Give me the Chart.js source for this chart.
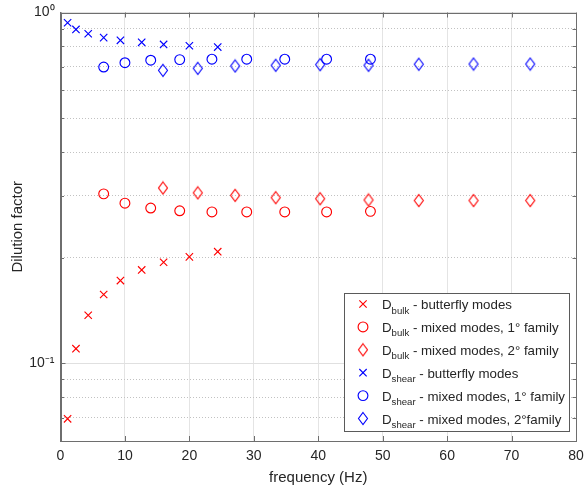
<!DOCTYPE html>
<html>
<head>
<meta charset="utf-8">
<script src="https://cdn.jsdelivr.net/npm/chart.js@4/dist/chart.umd.min.js"></script>
<style>
  html, body { margin: 0; padding: 0; background: #ffffff; }
  #wrap { width: 584px; height: 490px; }
</style>
</head>
<body>
<div id="wrap"><canvas id="c" width="584" height="490"></canvas></div>
<script>
// ---- data ----
const butterflyF       = [1.1, 2.4, 4.3, 6.7, 9.3, 12.6, 16.0, 20.0, 24.4];
const bulkButterflyD   = [0.0694, 0.110, 0.137, 0.157, 0.172, 0.1845, 0.194, 0.201, 0.208];
const shearButterflyD  = [0.935, 0.895, 0.870, 0.848, 0.833, 0.822, 0.811, 0.804, 0.797];

const mixed1F          = [6.7, 10.0, 14.0, 18.5, 23.5, 28.9, 34.8, 41.3, 48.1];
const bulkMixed1D      = [0.304, 0.286, 0.277, 0.272, 0.270, 0.270, 0.270, 0.270, 0.271];
const shearMixed1D     = [0.699, 0.719, 0.731, 0.734, 0.736, 0.736, 0.736, 0.736, 0.736];

const mixed2F          = [15.9, 21.3, 27.1, 33.4, 40.3, 47.8, 55.6, 64.1, 72.9];
const bulkMixed2D      = [0.316, 0.306, 0.301, 0.2965, 0.2945, 0.292, 0.291, 0.291, 0.291];
const shearMixed2D     = [0.684, 0.693, 0.704, 0.707, 0.710, 0.707, 0.712, 0.713, 0.713];

const xTicks = [0, 10, 20, 30, 40, 50, 60, 70, 80];
const yTicks = [0.06, 0.07, 0.08, 0.09, 0.1, 0.2, 0.3, 0.4, 0.5, 0.6, 0.7, 0.8, 0.9, 1];
const yMajorLabels = { '1': '10\u2070', '0.1': '10\u207B\u00B9' };

const legendMain = ['D', 'D', 'D', 'D', 'D', 'D'];
const legendSub  = ['bulk', 'bulk', 'bulk', 'shear', 'shear', 'shear'];
const legendRest = [' - butterfly modes', ' - mixed modes, 1\u00B0 family', ' - mixed modes, 2\u00B0 family',
                    ' - butterfly modes', ' - mixed modes, 1\u00B0 family', ' - mixed modes, 2\u00B0family'];

// ---- styling ----
const RED = '#ff0000', BLUE = '#0000ff';
const FONT = "'Liberation Sans', Arial, Helvetica, sans-serif";
const TEXT = '#262626';

function diamond(color) {
  const c = document.createElement('canvas');
  c.width = 12; c.height = 15;
  const g = c.getContext('2d');
  g.strokeStyle = color; g.lineWidth = 1.1;
  g.beginPath();
  g.moveTo(6, 1.5); g.lineTo(10.5, 7.5); g.lineTo(6, 13.5); g.lineTo(1.5, 7.5); g.closePath();
  g.stroke();
  return c;
}
const redDiamond = diamond(RED), blueDiamond = diamond(BLUE);

function pts(xs, ys) { return xs.map((x, i) => ({ x: x, y: ys[i] })); }

function ds(label, xs, ys, color, style, radius) {
  return {
    label: label, data: pts(xs, ys), showLine: false,
    pointStyle: style, pointRadius: radius, pointHoverRadius: radius,
    borderColor: color, backgroundColor: 'rgba(0,0,0,0)', pointBorderWidth: 1.15, borderWidth: 1.15
  };
}

const datasets = [
  ds('Dbulk - butterfly modes', butterflyF, bulkButterflyD, RED, 'crossRot', 5.2),
  ds('Dbulk - mixed modes, 1° family', mixed1F, bulkMixed1D, RED, 'circle', 4.9),
  ds('Dbulk - mixed modes, 2° family', mixed2F, bulkMixed2D, RED, redDiamond, 6),
  ds('Dshear - butterfly modes', butterflyF, shearButterflyD, BLUE, 'crossRot', 5.2),
  ds('Dshear - mixed modes, 1° family', mixed1F, shearMixed1D, BLUE, 'circle', 4.9),
  ds('Dshear - mixed modes, 2°family', mixed2F, shearMixed2D, BLUE, blueDiamond, 6)
];

function isMajorY(v) { return Math.abs(v - 1) < 1e-9 || Math.abs(v - 0.1) < 1e-9; }

// inner tick marks + full box
const boxTicks = {
  id: 'boxTicks',
  afterDatasetsDraw(chart) {
    const { ctx, chartArea: a, scales } = chart;
    ctx.save();
    ctx.strokeStyle = '#6e6e6e';
    ctx.lineWidth = 1;
    ctx.beginPath();
    scales.x.ticks.forEach(t => {
      const px = Math.round(scales.x.getPixelForValue(t.value)) + 0.5;
      ctx.moveTo(px, a.bottom); ctx.lineTo(px, a.bottom - 5);
      ctx.moveTo(px, a.top); ctx.lineTo(px, a.top + 5);
    });
    scales.y.ticks.forEach(t => {
      const py = Math.round(scales.y.getPixelForValue(t.value)) + 0.5;
      const len = isMajorY(t.value) ? 5 : 3.5;
      ctx.moveTo(a.left, py); ctx.lineTo(a.left + len, py);
      ctx.moveTo(a.right, py); ctx.lineTo(a.right - len, py);
    });
    ctx.stroke();
    ctx.beginPath();
    ctx.rect(Math.round(a.left) + 0.5, Math.round(a.top) + 0.5,
             Math.round(a.right) - Math.round(a.left), Math.round(a.bottom) - Math.round(a.top));
    ctx.stroke();
    ctx.restore();
  }
};

// legend with subscripts
const subLegend = {
  id: 'subLegend',
  afterDraw(chart) {
    const { ctx } = chart;
    const bx = 344.5, by = 293.5, bw = 225, bh = 138;
    ctx.save();
    ctx.fillStyle = '#ffffff';
    ctx.fillRect(bx, by, bw, bh);
    ctx.strokeStyle = '#5a5a5a';
    ctx.lineWidth = 1;
    ctx.strokeRect(bx, by, bw, bh);
    const rowY0 = 304, rowDy = 22.9, markX = 363, textX = 382;
    chart.data.datasets.forEach((d, i) => {
      const cy = rowY0 + i * rowDy;
      ctx.save();
      ctx.strokeStyle = d.borderColor;
      ctx.fillStyle = 'rgba(0,0,0,0)';
      ctx.lineWidth = 1.15;
      Chart.helpers.drawPoint(ctx, { pointStyle: d.pointStyle, radius: d.pointRadius, borderWidth: 1.15, rotation: 0 }, markX, cy);
      ctx.restore();
      ctx.fillStyle = TEXT;
      ctx.textBaseline = 'alphabetic';
      ctx.textAlign = 'left';
      const base = cy + 5;
      ctx.font = '13.3px ' + FONT;
      ctx.fillText(legendMain[i], textX, base);
      let x = textX + ctx.measureText(legendMain[i]).width;
      ctx.font = '9.6px ' + FONT;
      ctx.fillText(legendSub[i], x, base + 4.5);
      x += ctx.measureText(legendSub[i]).width;
      ctx.font = '13.3px ' + FONT;
      ctx.fillText(legendRest[i], x, base);
    });
    ctx.restore();
  }
};

new Chart(document.getElementById('c'), {
  type: 'scatter',
  data: { datasets: datasets },
  options: {
    responsive: false,
    animation: false,
    events: [],
    layout: { padding: { top: 12.5, right: 8, bottom: 0, left: 0 } },
    plugins: { legend: { display: false }, tooltip: { enabled: false } },
    scales: {
      x: {
        type: 'linear', min: 0, max: 80,
        afterBuildTicks: s => { s.ticks = xTicks.map(v => ({ value: v })); },
        afterFit: s => { s.height = 49; s.paddingLeft = 0; s.paddingRight = 0; },
        ticks: { font: { family: FONT, size: 14 }, color: TEXT, padding: 7, maxRotation: 0, autoSkip: false },
        grid: { color: '#e4e4e4', lineWidth: 1, drawTicks: false },
        border: { display: true, color: '#6e6e6e', width: 1 },
        title: { display: true, text: 'frequency (Hz)', color: TEXT, font: { family: FONT, size: 15 }, padding: { top: 0, bottom: 3 } }
      },
      y: {
        type: 'logarithmic', min: 0.06, max: 1,
        afterBuildTicks: s => { s.ticks = yTicks.map(v => ({ value: v, major: isMajorY(v) })); },
        afterFit: s => { s.width = 60.5; s.paddingTop = 0; s.paddingBottom = 0; },
        ticks: {
          font: { family: FONT, size: 14 }, color: TEXT, padding: 6, autoSkip: false,
          callback: v => yMajorLabels[String(v)] || ''
        },
        grid: {
          drawTicks: false, lineWidth: 1,
          color: c => (c.tick && isMajorY(c.tick.value)) ? '#e0e0e0' : '#c2c2c2',
          borderDash: c => (c.tick && !isMajorY(c.tick.value)) ? [1, 2] : []
        },
        border: {
          display: true, color: '#6e6e6e', width: 1,
          dash: c => (c.tick && !isMajorY(c.tick.value)) ? [1, 2] : []
        },
        title: { display: true, text: 'Dilution factor', color: TEXT, font: { family: FONT, size: 15 }, padding: { top: 9, bottom: 0 } }
      }
    }
  },
  plugins: [boxTicks, subLegend]
});
</script>
</body>
</html>
